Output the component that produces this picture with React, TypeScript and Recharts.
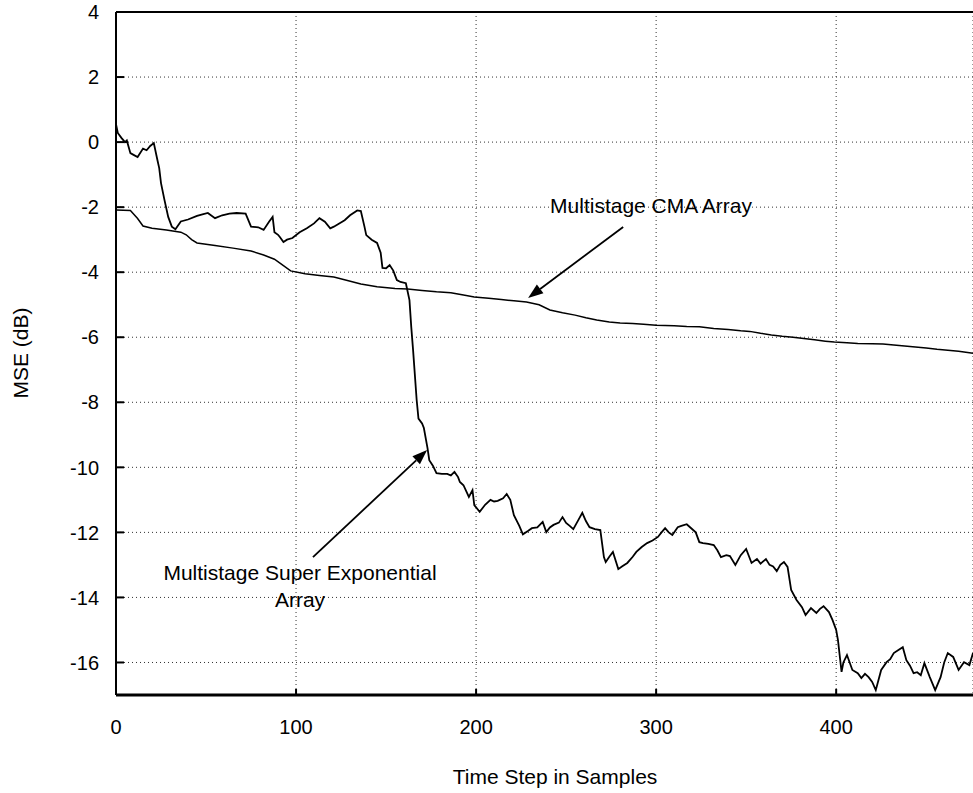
import { LineChart, Line, XAxis, YAxis, CartesianGrid, ReferenceLine, ReferenceDot } from "recharts";

const xTicks = [0, 100, 200, 300, 400];
const yTicks = [-16, -14, -12, -10, -8, -6, -4, -2, 0, 2, 4];

// Multistage Super Exponential Array (sample, MSE dB)
const seSamples = [
  0, 1, 3, 5, 6, 8, 10, 12, 15, 17, 19, 21, 23, 24, 25, 27, 29, 31, 33, 36,
  40, 45, 48, 51, 55, 59, 63, 67, 72, 75, 79, 82, 85, 87, 88, 90, 91, 93, 95, 98,
  102, 106, 110, 113, 116, 119, 121, 124, 127, 130, 134, 136, 138, 139, 142, 145, 147, 148, 150, 152,
  154, 156, 158, 161, 163, 164, 165, 167, 168, 170, 171, 173, 174, 176, 178, 181, 184, 186, 188, 190,
  191, 193, 196, 198, 199, 202, 205, 208, 210, 212, 215, 217, 219, 221, 224, 226, 229, 231, 234, 237,
  239, 241, 243, 246, 248, 250, 252, 254, 257, 259, 261, 263, 266, 269, 271, 272, 274, 276, 279, 281,
  284, 287, 289, 292, 295, 298, 301, 303, 305, 307, 309, 312, 314, 317, 319, 322, 324, 326, 329, 332,
  334, 336, 339, 341, 344, 347, 350, 353, 356, 358, 361, 363, 365, 367, 369, 371, 373, 375, 378, 381,
  383, 386, 389, 391, 393, 396, 398, 400, 401, 403, 404, 406, 409, 412, 414, 416, 418, 420, 422, 425,
  428, 430, 432, 435, 437, 439, 441, 443, 445, 447, 449, 452, 455, 458, 460, 462, 465, 468, 471, 474,
  476,
];
const seMse = [
  0.55, 0.28, 0.13, 0.0, 0.05, -0.34, -0.4, -0.46, -0.2, -0.25, -0.12, -0.03, -0.55, -0.8, -1.26, -1.8, -2.3, -2.6, -2.68, -2.44,
  -2.38, -2.27, -2.22, -2.18, -2.34, -2.25, -2.2, -2.18, -2.2, -2.6, -2.62, -2.7, -2.45, -2.3, -2.77, -2.85, -2.92, -3.07, -3.0, -2.95,
  -2.77, -2.65, -2.5, -2.34, -2.45, -2.65, -2.6, -2.5, -2.4, -2.25, -2.1, -2.12, -2.6, -2.86, -3.0, -3.1, -3.4, -3.87, -3.88, -3.78,
  -3.95, -4.24, -4.3, -4.34, -4.86, -5.69, -6.39, -7.93, -8.5, -8.65, -8.79, -9.4, -9.78, -9.95, -10.18, -10.2, -10.2, -10.25, -10.14, -10.3,
  -10.45, -10.55, -10.91, -10.7, -11.16, -11.37, -11.15, -11.0, -11.05, -11.03, -10.95, -10.82, -11.0, -11.47, -11.8, -12.06, -11.95, -11.87, -11.85, -11.68,
  -11.99, -11.85, -11.77, -11.7, -11.53, -11.71, -11.8, -11.9, -11.6, -11.4, -11.65, -11.84, -11.9, -11.93, -12.76, -12.91, -12.75, -12.6, -13.13, -13.05,
  -12.94, -12.75, -12.6, -12.45, -12.33, -12.25, -12.14, -12.0, -11.87, -12.0, -12.08, -11.84, -11.8, -11.75, -11.85, -12.0, -12.3, -12.33, -12.35, -12.39,
  -12.55, -12.76, -12.7, -12.73, -13.0, -12.7, -12.51, -12.94, -12.82, -12.96, -12.82, -13.0, -13.05, -13.19, -13.0, -12.91, -13.06, -13.77, -14.08, -14.3,
  -14.54, -14.33, -14.48, -14.35, -14.27, -14.45, -14.7, -15.0, -15.31, -16.29, -16.0, -15.77, -16.23, -16.33, -16.48, -16.35, -16.45, -16.6, -16.85, -16.23,
  -15.99, -15.9, -15.71, -15.6, -15.53, -15.93, -16.1, -16.33, -16.3, -16.39, -16.02, -16.45, -16.85, -16.45, -16.0, -15.71, -15.83, -16.23, -15.99, -16.08,
  -15.71,
];

// Multistage CMA Array (sample, MSE dB)
const cmaSamples = [
  0, 8, 12, 15, 20, 28, 36, 39, 42, 45, 55, 65, 75, 82, 88, 93, 97, 105, 113, 121,
  128, 136, 145, 155, 162, 170, 178, 186, 193, 199, 207, 214, 221, 228, 235, 241, 248, 255, 261, 267,
  274, 280, 287, 293, 300, 310, 317, 324, 332, 340, 347, 352, 358, 364, 370, 376, 382, 388, 394, 399,
  406, 412, 420, 426, 432, 438, 444, 450, 456, 462, 468, 472, 476,
];
const cmaMse = [
  -2.09, -2.1, -2.35, -2.58, -2.65, -2.7, -2.77, -2.85, -3.0, -3.1, -3.18, -3.26, -3.35, -3.47, -3.6, -3.8, -3.96, -4.05, -4.1, -4.15,
  -4.25, -4.36, -4.45, -4.5, -4.52, -4.56, -4.6, -4.63, -4.7, -4.76, -4.8, -4.84, -4.88, -4.92, -5.0, -5.16, -5.25, -5.32, -5.4, -5.47,
  -5.53, -5.56, -5.58, -5.6, -5.63, -5.65, -5.67, -5.68, -5.73, -5.76, -5.8, -5.82, -5.88, -5.93, -5.97, -6.0, -6.04, -6.08, -6.12, -6.15,
  -6.17, -6.19, -6.2, -6.21, -6.24, -6.27, -6.3, -6.33, -6.37, -6.4, -6.43, -6.46, -6.49,
];

const seData = seSamples.map((x, i) => ({ x, y: seMse[i] }));
const cmaData = cmaSamples.map((x, i) => ({ x, y: cmaMse[i] }));

const FONT = "'Liberation Sans', Arial, Helvetica, sans-serif";
const PLOT_LEFT = 116;
const PLOT_BOTTOM = 695;

const YTick = ({ y, payload }: any) => (
  <g>
    <line x1={PLOT_LEFT} x2={PLOT_LEFT + 8} y1={y} y2={y} stroke="#000" strokeWidth={2} />
    <text x={PLOT_LEFT - 17} y={y} dy="0.36em" textAnchor="end" fontSize={20} fill="#000" fontFamily={FONT}>
      {payload.value}
    </text>
  </g>
);

const XTick = ({ x, payload }: any) => (
  <g>
    <line x1={x} x2={x} y1={PLOT_BOTTOM} y2={PLOT_BOTTOM - 6} stroke="#000" strokeWidth={2} />
    <text x={x} y={734} textAnchor="middle" fontSize={20} fill="#000" fontFamily={FONT}>
      {payload.value}
    </text>
  </g>
);

const Arrow = ({ x1, y1, x2, y2 }: any) => {
  const dx = x2 - x1;
  const dy = y2 - y1;
  const len = Math.sqrt(dx * dx + dy * dy) || 1;
  const ux = dx / len;
  const uy = dy / len;
  const hl = 15;
  const hw = 5.5;
  const bx = x2 - ux * hl;
  const by = y2 - uy * hl;
  return (
    <g>
      <line x1={x1} y1={y1} x2={bx} y2={by} stroke="#000" strokeWidth={1.8} />
      <polygon
        points={`${x2},${y2} ${bx - uy * hw},${by + ux * hw} ${bx + uy * hw},${by - ux * hw}`}
        fill="#000"
      />
    </g>
  );
};

const note = (lines: string[], anchor: "start" | "middle") => ({ cx, cy }: any) => (
  <text x={cx} y={cy} textAnchor={anchor} fontSize={21} fill="#000" fontFamily={FONT}>
    {lines.map((l, i) => (
      <tspan key={l} x={cx} dy={i === 0 ? 0 : 27}>{l}</tspan>
    ))}
  </text>
);

export default function App() {
  return (
    <div style={{ position: "absolute", left: 0, top: 0, background: "#fff", fontFamily: FONT }}>
      <LineChart width={973} height={793} margin={{ top: 12, right: 0, bottom: 0, left: 0 }}>
        <CartesianGrid stroke="#333" strokeDasharray="1 3" />
        <XAxis
          dataKey="x"
          type="number"
          domain={[0, 476]}
          ticks={xTicks}
          allowDataOverflow
          height={98}
          axisLine={{ stroke: "#000", strokeWidth: 3 }}
          tickLine={false}
          tick={<XTick />}
          label={{
            content: () => (
              <text x={555} y={784} textAnchor="middle" fontSize={21} fill="#000" fontFamily={FONT}>
                Time Step in Samples
              </text>
            ),
          }}
        />
        <YAxis
          type="number"
          domain={[-17, 4]}
          ticks={yTicks}
          allowDataOverflow
          width={116}
          axisLine={{ stroke: "#000", strokeWidth: 2 }}
          tickLine={false}
          tick={<YTick />}
          label={{
            content: () => (
              <text transform="translate(28,353) rotate(-90)" textAnchor="middle" fontSize={21} fill="#000" fontFamily={FONT}>
                MSE (dB)
              </text>
            ),
          }}
        />
        <ReferenceLine y={4} stroke="#000" strokeWidth={2} />
        <Line data={cmaData} dataKey="y" type="linear" stroke="#000" strokeWidth={1.5} dot={false} isAnimationActive={false} />
        <Line data={seData} dataKey="y" type="linear" stroke="#000" strokeWidth={1.8} dot={false} isAnimationActive={false} />
        <ReferenceLine segment={[{ x: 281.7, y: -2.61 }, { x: 228.9, y: -4.79 }]} shape={<Arrow />} />
        <ReferenceLine segment={[{ x: 109.4, y: -12.76 }, { x: 172.8, y: -9.47 }]} shape={<Arrow />} />
        <ReferenceDot x={241.1} y={-2.18} r={0} shape={note(["Multistage CMA Array"], "start")} />
        <ReferenceDot x={102.2} y={-13.47} r={0} shape={note(["Multistage Super Exponential", "Array"], "middle")} />
      </LineChart>
    </div>
  );
}
